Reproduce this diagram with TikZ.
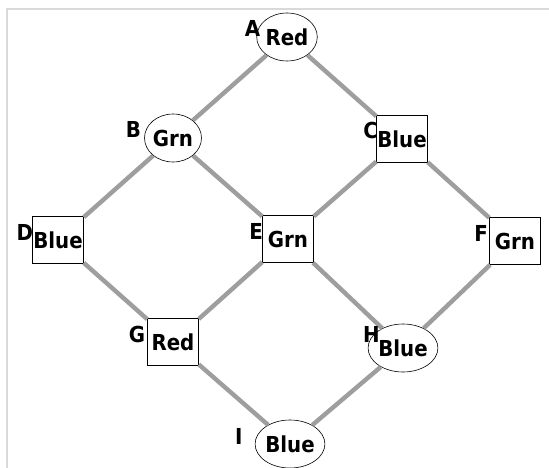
\documentclass[tikz,border=0pt]{standalone}
\usepackage{fontspec}
\setmainfont{DejaVu Sans Condensed}
\usetikzlibrary{shapes.geometric}
\begin{document}
\begin{tikzpicture}[x=1pt,y=-1pt,
  val/.style={fill=white,draw=black,line width=0.6pt,inner sep=0pt,
    font=\fontsize{22}{22}\selectfont\bfseries},
  oval/.style={val,ellipse,minimum width=57pt,minimum height=48pt},
  box/.style={val,rectangle,minimum width=51pt,minimum height=47pt},
  lbl/.style={inner sep=0pt,anchor=base east,font=\fontsize{22}{22}\selectfont\bfseries},
  link/.style={draw=black!38,line width=4.4pt}]
  \useasboundingbox (0,0) rectangle (549,468);
  % frame lines along the top and left
  \draw[black!15,line width=1.5pt] (7,468) -- (7,9) -- (549,9);

  % graph nodes
  \node[oval] (a) at (287,37)  {Red};
  \node[oval] (b) at (173,138) {Grn};
  \node[box]  (c) at (402,139) {Blue};
  \node[box]  (d) at (58,240)  {Blue};
  \node[box]  (e) at (288,239) {Grn};
  \node[box]  (f) at (515,241) {Grn};
  \node[box]  (g) at (173,342) {Red};
  \node[oval] (h) at (403,348) {Blue};
  \node[oval] (i) at (290,444) {Blue};

  % edges, trimmed at the node borders
  \path[link] (a) -- (b);
  \path[link] (a) -- (c);
  \path[link] (b) -- (d);
  \path[link] (b) -- (e);
  \path[link] (c) -- (e);
  \path[link] (c) -- (f);
  \path[link] (d) -- (g);
  \path[link] (e) -- (g);
  \path[link] (e) -- (h);
  \path[link] (f) -- (h);
  \path[link] (g) -- (i);
  \path[link] (h) -- (i);

  % node names
  \node[lbl] (la) at ([xshift=4pt]a.west) {A};
  \node[lbl] (lb) at ([xshift=-3pt]b.west) {B};
  \node[lbl] (lc) at ([xshift=2pt]c.west) {C};
  \node[lbl] (ld) at ([xshift=1pt]d.west) {D};
  \node[lbl] (le) at ([xshift=1pt]e.west) {E};
  \node[lbl] (lf) at ([xshift=-1pt]f.west) {F};
  \node[lbl] (lg) at ([xshift=-2pt]g.west) {G};
  \node[lbl] (lh) at ([xshift=12pt,yshift=6pt]h.west) {H};
  \node[lbl] (li) at ([xshift=-12pt]i.west) {I};
\end{tikzpicture}
\end{document}
